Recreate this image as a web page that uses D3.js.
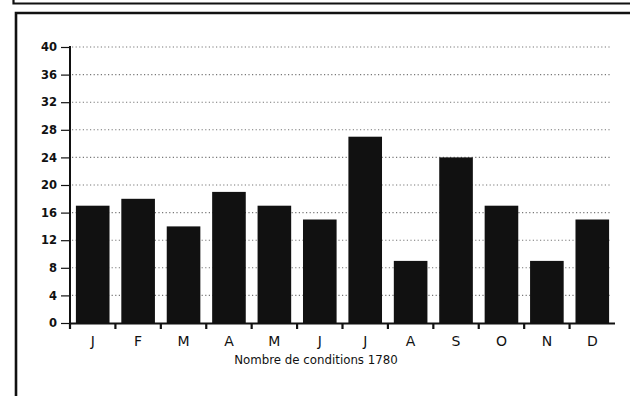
<!DOCTYPE html>
<html><head><meta charset="utf-8">
<script src="https://cdn.jsdelivr.net/npm/d3@7"></script>
<style>html,body{margin:0;padding:0;background:#fff;}svg{display:block;}</style>
</head><body>
<script>
const months = ["J","F","M","A","M","J","J","A","S","O","N","D"];
const values = [17,18,14,19,17,15,27,9,24,17,9,15];
const yTicks = [0,4,8,12,16,20,24,28,32,36,40];
const xTitle = "Nombre de conditions 1780";

const W = 630, H = 396;
const svg = d3.select("body").append("svg").attr("width", W).attr("height", H);
svg.append("rect").attr("width", W).attr("height", H).attr("fill", "#fff");

// frame
svg.append("path").attr("d", "M13.5,0 V3.5 H630").attr("fill","none").attr("stroke","#111").attr("stroke-width",2.2);
svg.append("path").attr("d", "M16,396 V13 H632").attr("fill","none").attr("stroke","#111").attr("stroke-width",2.6);

const x0 = 70, x1 = 615, y0 = 323, y1 = 47;
const x = d3.scaleBand().domain(d3.range(months.length)).range([x0, x1]).paddingInner(0.26).paddingOuter(0.13);
const y = d3.scaleLinear().domain([0, 40]).range([y0, y1]);

// grid
svg.append("g").selectAll("line").data(yTicks.filter(d => d > 0)).join("line")
  .attr("x1", x0 + 2).attr("x2", 612)
  .attr("y1", d => y(d)).attr("y2", d => y(d))
  .attr("stroke", "#777").attr("stroke-width", 1.1).attr("stroke-dasharray", "1.2,2.4");

// bars
svg.append("g").selectAll("rect").data(values).join("rect")
  .attr("x", (d, i) => x(i)).attr("width", x.bandwidth())
  .attr("y", d => y(d)).attr("height", d => y0 - y(d))
  .attr("fill", "#111");

// y axis
const ya = d3.axisLeft(y).tickValues(yTicks).tickSize(9).tickPadding(4);
const gy = svg.append("g").attr("transform", `translate(${x0},0)`).call(ya);
gy.select(".domain").attr("stroke", "#111").attr("stroke-width", 2).attr("d", `M0,${y0}V${y1 - 1}`);
gy.selectAll(".tick line").attr("stroke", "#111").attr("stroke-width", 1.2);
gy.selectAll("text").attr("font-family", "DejaVu Sans, sans-serif").attr("font-size", 11.5).attr("font-weight", "bold").attr("fill", "#111");

// x axis
svg.append("line").attr("x1", x0).attr("x2", x1).attr("y1", y0 + 0.5).attr("y2", y0 + 0.5).attr("stroke", "#111").attr("stroke-width", 2);
const tickXs = d3.range(months.length).map(i => x(i) - (x.step() - x.bandwidth()) / 2);
svg.append("g").selectAll("line").data(tickXs).join("line")
  .attr("x1", d => d).attr("x2", d => d).attr("y1", y0).attr("y2", y0 + 6)
  .attr("stroke", "#111").attr("stroke-width", 2.2);
svg.append("g").selectAll("text").data(months).join("text")
  .attr("x", (d, i) => x(i) + x.bandwidth() / 2).attr("y", 346)
  .attr("text-anchor", "middle").attr("font-family", "DejaVu Sans, sans-serif").attr("font-size", 14)
  .attr("fill", "#111").text(d => d);
svg.append("text").attr("x", 316).attr("y", 364).attr("text-anchor", "middle")
  .attr("font-family", "DejaVu Sans, sans-serif").attr("font-size", 11.8).attr("fill", "#111").text(xTitle);
</script>
</body></html>
